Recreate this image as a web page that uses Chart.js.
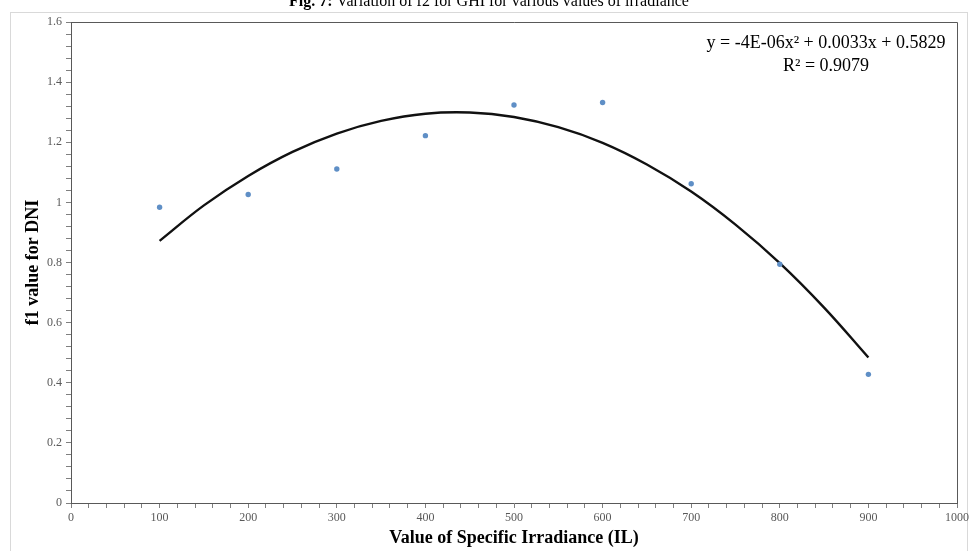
<!DOCTYPE html>
<html>
<head>
<meta charset="utf-8">
<script src="https://cdn.jsdelivr.net/npm/chart.js@4.4.1/dist/chart.umd.min.js"></script>
<style>
  html, body { margin: 0; padding: 0; background: #fff; }
  #wrap { width: 972px; height: 551px; position: relative; }
</style>
</head>
<body>
<div id="wrap"><canvas id="fitChart"></canvas></div>
<script>
// Measured f1 values (DNI) per specific irradiance level
const irradiance = [100, 200, 300, 400, 500, 600, 700, 800, 900];
const f1Values = [0.984, 1.026, 1.111, 1.222, 1.324, 1.332, 1.062, 0.794, 0.428];

// Polynomial trendline
const trendX = [100, 150, 200, 250, 300, 350, 400, 450, 500, 550, 600, 650, 700, 750, 800, 850, 900];
const trendY = [0.872, 0.990, 1.088, 1.168, 1.229, 1.271, 1.295, 1.299, 1.284, 1.250, 1.198, 1.126, 1.036, 0.926, 0.798, 0.650, 0.484];

const figTitle = "Variation of f2 for GHI for various values of irradiance";
const equationText = "y = -4E-06x\u00b2 + 0.0033x + 0.5829";
const rSquaredText = "R\u00b2 = 0.9079";

const serif = "'Liberation Serif', 'Times New Roman', serif";

// outer frame, plot border, cut-off caption and the trendline equation
const decorPlugin = {
  id: "decor",
  beforeDraw(chart) {
    const c = chart.ctx;
    c.save();
    c.fillStyle = "#fff";
    c.fillRect(0, 0, chart.width, chart.height);
    c.strokeStyle = "#d9d9d9";
    c.lineWidth = 1;
    c.strokeRect(10.5, 12.5, 957, 545);
    c.restore();
  },
  afterDraw(chart) {
    const c = chart.ctx;
    const a = chart.chartArea;
    c.save();
    c.strokeStyle = "#595959";
    c.lineWidth = 1;
    c.beginPath();
    c.moveTo(a.left, a.top + 0.5);
    c.lineTo(a.right + 0.5, a.top + 0.5);
    c.lineTo(a.right + 0.5, a.bottom);
    c.stroke();

    // caption, mostly above the visible page
    c.fillStyle = "#000";
    c.textBaseline = "alphabetic";
    c.font = "bold 16px " + serif;
    const lead = "Fig. 7: ";
    const leadW = c.measureText(lead).width;
    c.font = "16px " + serif;
    const restW = c.measureText(figTitle).width;
    const x = 489 - (leadW + restW) / 2;
    c.font = "bold 16px " + serif;
    c.fillText(lead, x, 6);
    c.font = "16px " + serif;
    c.fillText(figTitle, x + leadW, 6);

    // equation box text
    c.font = "18px " + serif;
    c.textAlign = "center";
    c.fillText(equationText, 826, 48);
    c.fillText(rSquaredText, 826, 71);
    c.restore();
  },
};

new Chart(document.getElementById("fitChart"), {
  type: "scatter",
  data: {
    datasets: [
      {
        label: "f1",
        data: irradiance.map((x, i) => ({ x: x, y: f1Values[i] })),
        backgroundColor: "#5f8fc6",
        borderColor: "#5f8fc6",
        pointRadius: 2.7,
        pointBorderWidth: 0,
        order: 1,
      },
      {
        label: "Poly. trend",
        data: trendX.map((x, i) => ({ x: x, y: trendY[i] })),
        showLine: true,
        borderColor: "#111",
        borderWidth: 2.4,
        pointRadius: 0,
        tension: 0.4,
        order: 2,
      },
    ],
  },
  options: {
    responsive: true,
    maintainAspectRatio: false,
    animation: false,
    layout: { padding: { top: 22, right: 13, left: 0, bottom: 0 } },
    plugins: {
      legend: { display: false },
      tooltip: { enabled: false },
    },
    scales: {
      x: {
        type: "linear",
        min: 0,
        max: 1000,
        afterFit: (s) => { s.height = 48; },
        ticks: {
          stepSize: 20,
          autoSkip: false,
          maxRotation: 0,
          padding: 3,
          color: "#595959",
          font: { family: serif, size: 12 },
          callback: (v) => (Math.round(v) % 100 === 0 ? String(Math.round(v)) : ""),
        },
        grid: { drawOnChartArea: false, tickLength: 5, color: "#7f7f7f" },
        border: { color: "#595959", width: 1 },
        title: {
          display: true,
          text: "Value of Specific Irradiance (IL)",
          color: "#000",
          font: { family: serif, size: 18, weight: "bold" },
          padding: { top: 0, bottom: 2 },
        },
      },
      y: {
        min: 0,
        max: 1.6,
        afterFit: (s) => { s.width = 71; },
        ticks: {
          stepSize: 0.04,
          autoSkip: false,
          padding: 4,
          color: "#595959",
          font: { family: serif, size: 12 },
          callback: (v) => {
            const r = Math.round(v * 100);
            return r % 20 === 0 ? String(r / 100) : "";
          },
        },
        grid: { drawOnChartArea: false, tickLength: 5, color: "#7f7f7f" },
        border: { color: "#595959", width: 1 },
        title: {
          display: true,
          text: "f1 value for DNI",
          color: "#000",
          font: { family: serif, size: 18, weight: "bold" },
          padding: { top: 23, bottom: 0 },
        },
      },
    },
  },
  plugins: [decorPlugin],
});
</script>
</body>
</html>
